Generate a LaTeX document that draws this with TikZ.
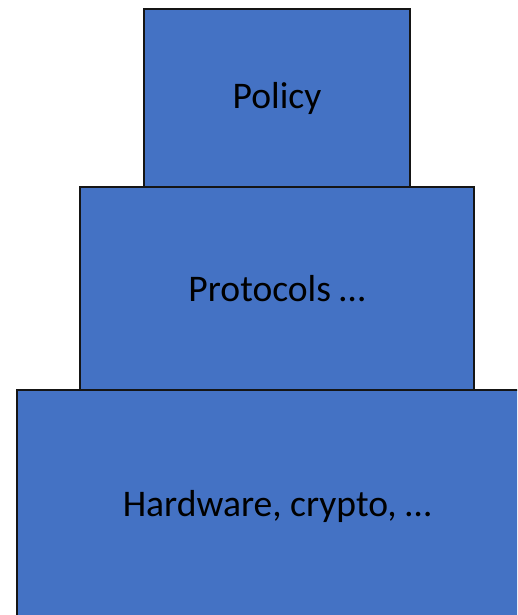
\documentclass[tikz,border=0pt]{standalone}
\usepackage{fontspec}
\setmainfont{Carlito}
\definecolor{boxblue}{HTML}{4472C4}
\definecolor{boxedge}{HTML}{151515}
\begin{document}
\begin{tikzpicture}[x=1pt,y=-1pt,
  layer/.style={draw=boxedge, fill=boxblue, line width=2pt},
  lbl/.style={font=\fontsize{37.6}{45}\selectfont, text=black, inner sep=0pt, anchor=base}]
\useasboundingbox (0,0) rectangle (517,615);
\clip (0,0) rectangle (517,615);
\fill[white] (0,0) rectangle (517,615);
\draw[layer] (17,389.5) rectangle (560,640);
\draw[layer] (80,186.5) rectangle (473.5,389.5);
\draw[layer] (144,9) rectangle (410,186.5);
\node[lbl] (hw) at (277,516) {Hardware, crypto, …};
\node[lbl] (pr) at (277,301) {Protocols …};
\node[lbl] (po) at (277,108.5) {Policy};
\end{tikzpicture}
\end{document}
